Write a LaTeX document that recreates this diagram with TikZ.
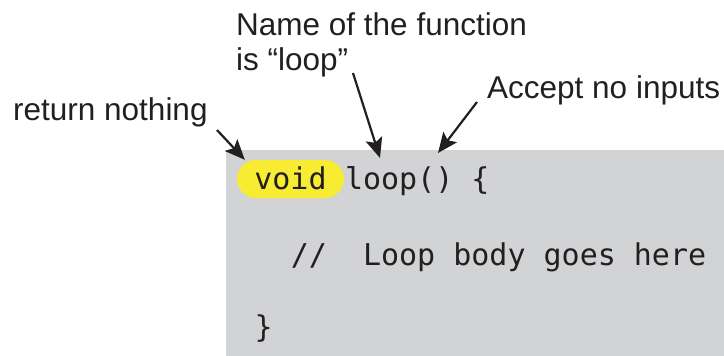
\documentclass[tikz,border=0pt]{standalone}
\usepackage{fontspec}
\setmainfont{Liberation Sans}
\setmonofont{DejaVu Sans Mono}
\usetikzlibrary{arrows.meta}
\definecolor{codegray}{HTML}{D1D3D4}
\definecolor{hilite}{HTML}{F7EC31}
\definecolor{ink}{HTML}{231F20}
\tikzset{
	label/.style={anchor=base west, inner sep=0pt, text=ink, font=\fontsize{31.5}{35}\selectfont},
	code/.style={anchor=base west, inner sep=0pt, text=ink, font=\fontsize{30}{36}\selectfont\ttfamily},
	pointer/.style={draw=ink, line width=2.2pt, -{Stealth[length=20pt, width=17pt, inset=4pt]}}
}
\begin{document}
\begin{tikzpicture}[x=1pt, y=-1pt]
	\useasboundingbox (0,0) rectangle (724,356);
	\fill[codegray] (226,150) rectangle (724,356);
	% code lines
	\node[fill=hilite, rounded corners=19pt, minimum width=107pt, minimum height=38pt,
		text height=20pt, text depth=0pt, inner sep=0pt, text=ink,
		font=\fontsize{30}{36}\selectfont\ttfamily] (pill) at (290.5,179) {void};
	\node[code] (loop) at (344.8,189) {loop() \{};
	\node[code] (body) at (290.6,265) {//\ \ Loop body goes here};
	\node[code] (close) at (254.5,337) {\}};
	% callouts
	\node[label] (ret) at (13,120) {return nothing};
	\node[label, align=left] (name) at (236,70) {Name of the function\\is \char"201C loop\char"201D};
	\node[label] (accept) at (487,98) {Accept no inputs};
	\coordinate (retFrom) at (217,130);
	\coordinate (nameFrom) at (353,73);
	\coordinate (nameTo) at (380,158);
	\coordinate (acceptFrom) at (477,102);
	\coordinate (acceptTo) at (438,153);
	\draw[pointer] (retFrom) -- ([xshift=8pt]pill.north west);
	\draw[pointer] (nameFrom) -- (nameTo);
	\draw[pointer] (acceptFrom) -- (acceptTo);
\end{tikzpicture}
\end{document}
